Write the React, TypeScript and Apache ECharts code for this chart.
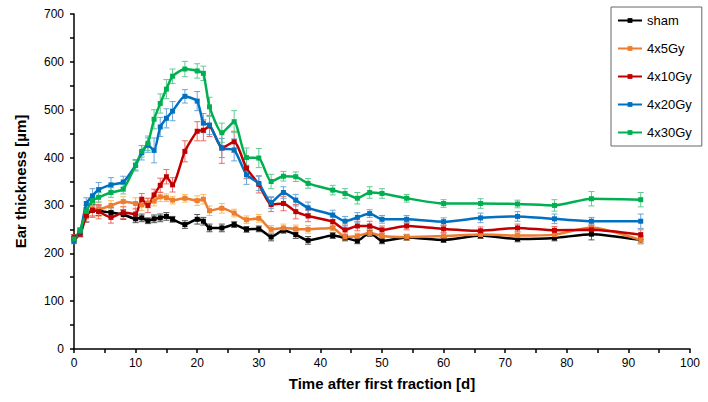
import React, { useEffect, useRef } from "react";
import * as echarts from "echarts";

const days = [0, 1, 2, 3, 4, 6, 8, 10, 11, 12, 13, 14, 15, 16, 18, 20, 21, 22, 24, 26, 28, 30, 32, 34, 36, 38, 42, 44, 46, 48, 50, 54, 60, 66, 72, 78, 84, 92];

const seriesNames = ["sham", "4x5Gy", "4x10Gy", "4x20Gy", "4x30Gy"];

const sham = [230, 243, 280, 290, 289, 285, 281, 272, 274, 268, 272, 274, 277, 271, 260, 271, 267, 253, 253, 260, 250, 251, 234, 248, 239, 227, 237, 232, 226, 243, 226, 233, 228, 237, 230, 232, 240, 228];
const gy5 = [228, 245, 283, 293, 292, 300, 308, 304, 301, 305, 309, 318, 316, 311, 315, 310, 313, 289, 294, 284, 270, 273, 250, 253, 251, 250, 253, 234, 236, 243, 236, 234, 236, 239, 237, 239, 254, 228];
const gy10 = [234, 240, 278, 290, 287, 275, 285, 282, 313, 300, 322, 342, 360, 343, 413, 455, 457, 466, 420, 433, 378, 344, 302, 304, 287, 278, 266, 249, 257, 257, 249, 257, 251, 247, 253, 248, 249, 239];
const gy20 = [225, 245, 304, 320, 333, 343, 349, 384, 410, 426, 415, 464, 482, 497, 528, 518, 472, 468, 420, 416, 364, 346, 306, 327, 311, 295, 280, 267, 275, 283, 271, 271, 266, 274, 277, 272, 267, 267];
const gy30 = [230, 248, 288, 310, 317, 327, 334, 384, 413, 430, 480, 513, 543, 570, 585, 581, 576, 506, 452, 475, 400, 399, 350, 361, 360, 346, 332, 325, 315, 327, 325, 315, 304, 304, 303, 300, 314, 312];

const shamErr = [5, 8, 15, 12, 10, 10, 10, 8, 8, 6, 8, 8, 8, 6, 8, 10, 8, 8, 8, 6, 6, 6, 8, 6, 8, 8, 6, 6, 6, 8, 6, 6, 5, 6, 6, 6, 12, 8];
const gy5Err = [5, 6, 12, 15, 15, 10, 10, 12, 12, 10, 10, 10, 8, 8, 8, 10, 10, 10, 10, 8, 8, 8, 8, 8, 8, 8, 6, 8, 6, 6, 6, 6, 6, 6, 6, 6, 8, 8];
const gy10Err = [5, 6, 12, 15, 15, 12, 12, 12, 12, 15, 12, 15, 15, 15, 22, 20, 22, 22, 32, 22, 22, 18, 15, 15, 15, 12, 10, 10, 10, 10, 8, 8, 8, 8, 8, 8, 10, 10];
const gy20Err = [5, 6, 12, 15, 15, 15, 12, 12, 15, 15, 26, 20, 20, 20, 14, 20, 20, 20, 20, 23, 20, 15, 12, 12, 12, 12, 10, 10, 10, 8, 8, 8, 8, 10, 10, 10, 8, 15];
const gy30Err = [5, 6, 12, 10, 10, 10, 10, 10, 12, 15, 20, 20, 20, 15, 16, 15, 15, 20, 20, 23, 20, 20, 15, 10, 10, 10, 10, 10, 12, 12, 10, 8, 8, 10, 8, 12, 15, 15];

const lineColors = ["#000000", "#ED7D31", "#C00000", "#0070C0", "#00B050"];
const errColors = ["#555555", "#F7BE5E", "#F06A6A", "#6AA6DA", "#62CC93"];

const values = [sham, gy5, gy10, gy20, gy30];
const errors = [shamErr, gy5Err, gy10Err, gy20Err, gy30Err];

const FONT = "Liberation Sans, Arial, sans-serif";

export default function App() {
  const ref = useRef<HTMLDivElement>(null);
  useEffect(() => {
    if (!ref.current) return;
    const chart = echarts.init(ref.current, undefined, { renderer: "svg" });

    const errSeries = values.map((vals, si) => ({
      type: "custom",
      name: seriesNames[si] + " error",
      z: 1,
      silent: true,
      encode: { x: 0, y: [1, 2] },
      data: days.map((d, i) => [d, vals[i] - errors[si][i], vals[i] + errors[si][i]]),
      renderItem: (params: any, api: any) => {
        const x = api.value(0);
        const lo = api.coord([x, api.value(1)]);
        const hi = api.coord([x, api.value(2)]);
        const w = 3;
        const style = { stroke: errColors[si], lineWidth: 1 };
        return {
          type: "group",
          children: [
            { type: "line", shape: { x1: lo[0], y1: lo[1], x2: hi[0], y2: hi[1] }, style },
            { type: "line", shape: { x1: lo[0] - w, y1: lo[1], x2: lo[0] + w, y2: lo[1] }, style },
            { type: "line", shape: { x1: hi[0] - w, y1: hi[1], x2: hi[0] + w, y2: hi[1] }, style },
          ],
        };
      },
    }));

    const lineSeries = values.map((vals, si) => ({
      type: "line",
      name: seriesNames[si],
      z: 3,
      data: days.map((d, i) => [d, vals[i]]),
      symbol: "rect",
      symbolSize: 5,
      smooth: 0.2,
      lineStyle: { color: lineColors[si], width: 2.5 },
      itemStyle: { color: lineColors[si] },
    }));

    chart.setOption({
      animation: false,
      grid: { left: 74, right: 18, top: 14, bottom: 53 },
      legend: {
        data: seriesNames,
        orient: "vertical",
        left: 611,
        top: 7,
        padding: [7, 10, 7, 6],
        itemGap: 15,
        itemWidth: 24,
        itemHeight: 6,
        borderColor: "#666666",
        borderWidth: 1,
        textStyle: { fontFamily: FONT, fontSize: 13, color: "#000" },
      },
      xAxis: {
        type: "value",
        min: 0,
        max: 100,
        interval: 10,
        name: "Time after first fraction [d]",
        nameLocation: "middle",
        nameGap: 27,
        nameTextStyle: { fontFamily: FONT, fontSize: 15, fontWeight: "bold", color: "#000" },
        axisLine: { lineStyle: { color: "#000", width: 1.5 } },
        axisTick: { length: 4, lineStyle: { color: "#000", width: 1.5 } },
        minorTick: { show: true, splitNumber: 2, length: 4, lineStyle: { color: "#000", width: 1.5 } },
        splitLine: { show: false },
        axisLabel: { fontFamily: FONT, fontSize: 12, color: "#000", margin: 8 },
      },
      yAxis: {
        type: "value",
        min: 0,
        max: 700,
        interval: 100,
        name: "Ear thickness [µm]",
        nameLocation: "middle",
        nameGap: 46,
        nameTextStyle: { fontFamily: FONT, fontSize: 15, fontWeight: "bold", color: "#000" },
        axisLine: { show: true, lineStyle: { color: "#000", width: 1.5 } },
        axisTick: { show: true, length: 4, lineStyle: { color: "#000", width: 1.5 } },
        minorTick: { show: true, splitNumber: 2, length: 4, lineStyle: { color: "#000", width: 1.5 } },
        splitLine: { show: false },
        axisLabel: { fontFamily: FONT, fontSize: 12, color: "#000", margin: 10 },
      },
      series: [...errSeries, ...lineSeries],
    });

    return () => chart.dispose();
  }, []);

  return (
    <div
      ref={ref}
      style={{ position: "fixed", left: 0, top: 0, width: 708, height: 402, background: "#fff" }}
    />
  );
}
